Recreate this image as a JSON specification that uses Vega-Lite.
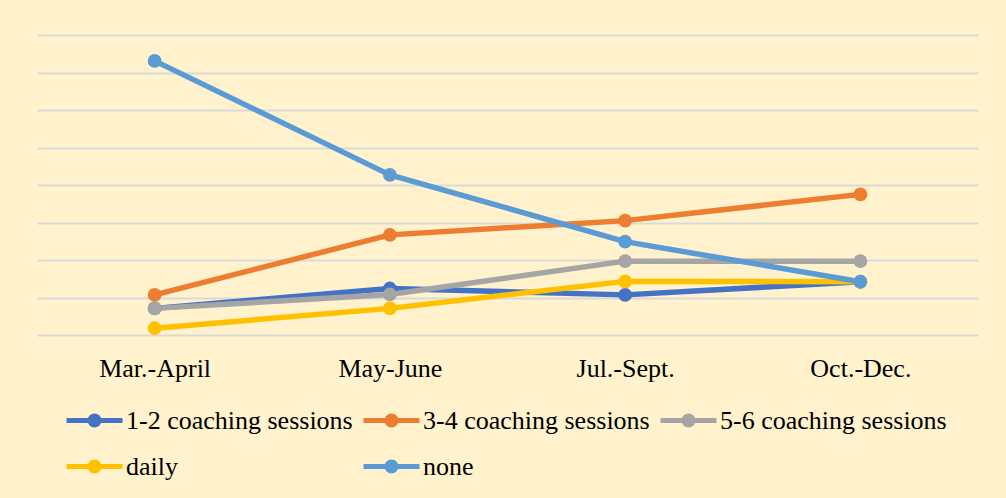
{
  "$schema": "https://vega.github.io/schema/vega-lite/v6.json",
  "width": 941,
  "height": 300,
  "autosize": {"type": "none"},
  "padding": {"left": 37, "top": 35, "right": 28, "bottom": 163},
  "background": "#FFF2CC",
  "config": {
    "view": {"stroke": null},
    "font": "Liberation Serif",
    "legend": {"labelFont": "Liberation Serif", "labelFontSize": 26, "labelColor": "#000000"}
  },
  "data": {
    "values": [
      {"period": "Mar.-April", "series": "1-2 coaching sessions", "value": 0.71},
      {"period": "May-June", "series": "1-2 coaching sessions", "value": 1.24},
      {"period": "Jul.-Sept.", "series": "1-2 coaching sessions", "value": 1.07},
      {"period": "Oct.-Dec.", "series": "1-2 coaching sessions", "value": 1.42},
      {"period": "Mar.-April", "series": "3-4 coaching sessions", "value": 1.07},
      {"period": "May-June", "series": "3-4 coaching sessions", "value": 2.67},
      {"period": "Jul.-Sept.", "series": "3-4 coaching sessions", "value": 3.05},
      {"period": "Oct.-Dec.", "series": "3-4 coaching sessions", "value": 3.75},
      {"period": "Mar.-April", "series": "5-6 coaching sessions", "value": 0.71},
      {"period": "May-June", "series": "5-6 coaching sessions", "value": 1.08},
      {"period": "Jul.-Sept.", "series": "5-6 coaching sessions", "value": 1.97},
      {"period": "Oct.-Dec.", "series": "5-6 coaching sessions", "value": 1.97},
      {"period": "Mar.-April", "series": "daily", "value": 0.18},
      {"period": "May-June", "series": "daily", "value": 0.71},
      {"period": "Jul.-Sept.", "series": "daily", "value": 1.43},
      {"period": "Oct.-Dec.", "series": "daily", "value": 1.42},
      {"period": "Mar.-April", "series": "none", "value": 7.31},
      {"period": "May-June", "series": "none", "value": 4.27},
      {"period": "Jul.-Sept.", "series": "none", "value": 2.49},
      {"period": "Oct.-Dec.", "series": "none", "value": 1.42}
    ]
  },
  "encoding": {
    "x": {
      "field": "period",
      "type": "ordinal",
      "sort": ["Mar.-April", "May-June", "Jul.-Sept.", "Oct.-Dec."],
      "scale": {"type": "point", "padding": 0.5},
      "axis": {
        "title": null,
        "labelAngle": 0,
        "labelFont": "Liberation Serif",
        "labelFontSize": 26,
        "labelColor": "#000000",
        "ticks": false,
        "domain": false,
        "grid": false,
        "labelPadding": 20
      }
    },
    "y": {
      "field": "value",
      "type": "quantitative",
      "scale": {"domain": [0, 8], "nice": false, "zero": true},
      "axis": {
        "title": null,
        "labels": false,
        "ticks": false,
        "domain": false,
        "grid": true,
        "gridColor": "#D9D9D9",
        "gridWidth": 2,
        "values": [0, 1, 2, 3, 4, 5, 6, 7, 8]
      }
    },
    "color": {
      "field": "series",
      "type": "nominal",
      "scale": {
        "domain": ["1-2 coaching sessions", "3-4 coaching sessions", "5-6 coaching sessions", "daily", "none"],
        "range": ["#4472C4", "#ED7D31", "#A5A5A5", "#FFC000", "#5B9BD5"]
      },
      "legend": {
        "title": null,
        "orient": "none",
        "legendX": 27,
        "legendY": 355,
        "direction": "horizontal",
        "columns": 3,
        "padding": 0,
        "columnPadding": 0,
        "rowPadding": 1,
        "symbolType": "M-1,0H1M-0.1607,0A0.1607,0.1607,0,1,1,0.1607,0A0.1607,0.1607,0,1,1,-0.1607,0ZM-0.0714,0A0.0714,0.0714,0,1,1,0.0714,0A0.0714,0.0714,0,1,1,-0.0714,0Z",
        "symbolSize": 3136,
        "symbolStrokeWidth": 5,
        "labelFont": "Liberation Serif",
        "labelFontSize": 26,
        "labelColor": "#000000",
        "labelLimit": 400,
        "labelOffset": 1
      }
    }
  },
  "layer": [
    {"mark": {"type": "line", "strokeWidth": 5.5, "strokeCap": "round", "strokeJoin": "round"}},
    {"mark": {"type": "point", "filled": true, "size": 190, "opacity": 1}}
  ]
}
